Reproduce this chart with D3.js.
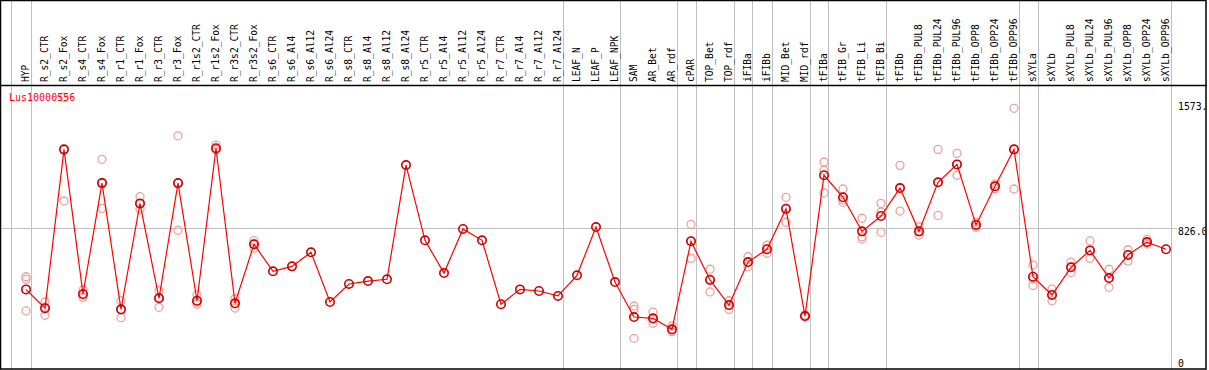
<!DOCTYPE html>
<html>
<head>
<meta charset="utf-8">
<script src="https://cdn.jsdelivr.net/npm/d3@7"></script>
<style>
  html, body { margin: 0; padding: 0; background: #fff; }
  svg { display: block; }
  text { font-family: "DejaVu Sans Mono", monospace; }
</style>
</head>
<body>
<script>
const categories = ["HYP","R_s2_CTR","R_s2_Fox","R_s4_CTR","R_s4_Fox","R_r1_CTR","R_r1_Fox","R_r3_CTR","R_r3_Fox","R_r1s2_CTR","R_r1s2_Fox","R_r3s2_CTR","R_r3s2_Fox","R_s6_CTR","R_s6_Al4","R_s6_Al12","R_s6_Al24","R_s8_CTR","R_s8_Al4","R_s8_Al12","R_s8_Al24","R_r5_CTR","R_r5_Al4","R_r5_Al12","R_r5_Al24","R_r7_CTR","R_r7_Al4","R_r7_Al12","R_r7_Al24","LEAF_N","LEAF_P","LEAF_NPK","SAM","AR_Bet","AR_rdf","cPAR","TOP_Bet","TOP_rdf","iFIBa","iFIBb","MID_Bet","MID_rdf","tFIBa","tFIB_Gr","tFIB_Li","tFIB_Bi","tFIBb","tFIBb_PUL8","tFIBb_PUL24","tFIBb_PUL96","tFIBb_OPP8","tFIBb_OPP24","tFIBb_OPP96","sXYLa","sXYLb","sXYLb_PUL8","sXYLb_PUL24","sXYLb_PUL96","sXYLb_OPP8","sXYLb_OPP24","sXYLb_OPP96"];

const means = [440,322,1316,411,1105,315,978,384,1105,369,1323,353,722,553,584,672,361,474,492,503,1218,747,542,818,747,347,440,430,399,528,830,486,267,259,190,741,499,342,611,691,943,273,1154,1016,803,899,1074,803,1110,1222,843,1085,1316,519,405,578,684,511,655,736,691];

const replicates = [
  [519,503,305],[361,278,330],[1642,1313,993],[436,390,405],[1254,947,1110],
  [369,263,312],[1020,941,975],[432,328,390],[1401,810,1105],[405,347,360],
  [1343,1312,1318],[382,323,350],[745,697,725],[],[],
  [],[],[],[],[],
  [],[],[],[],[],
  [],[],[],[],[],
  [],[],[336,315,134],[298,228,252],[211,175,185],
  [847,634,741],[566,424,505],[369,315,340],[644,582,608],[716,666,690],
  [1016,860,950],[279,267,273],[1237,1187,1043],[1068,985,1000],[885,770,755],
  [978,924,797],[1216,930,1074],[832,780,800],[1316,903,1110],[1291,1154,1222],
  [860,828,843],[1099,1070,1085],[1573,1068,1316],[592,465,505],[442,369,405],
  [611,544,578],[743,634,684],[566,453,511],[688,617,655],[753,724,736],[]
];

const separatorsAfter = [-1,0,28,31,34,35,37,38,39,41,42,45,52,53,60];
const yTicks = [0, 826.0, 1573.0];
const yTickLabels = ["0", "826.0", "1573."];
const geneName = "Lus10000556";

const W = 1209, H = 370;
const svg = d3.select("body").append("svg").attr("width", W).attr("height", H);

const x = d3.scaleLinear().domain([0, categories.length - 1]).range([26, 1166]);
const y = d3.scaleLinear().domain([0, 1573]).range([359.7, 108.3]);

svg.append("defs").append("clipPath").attr("id", "clipR")
  .append("rect").attr("x", 0).attr("y", 0).attr("width", 1205.5).attr("height", H);

// gray horizontal reference line
svg.append("line")
  .attr("x1", 0).attr("x2", 1177)
  .attr("y1", Math.round(y(826)) + 0.5).attr("y2", Math.round(y(826)) + 0.5)
  .attr("stroke", "#c0c0c0").attr("stroke-width", 1);

// group separators
svg.selectAll("line.sep").data(separatorsAfter).join("line")
  .attr("class", "sep")
  .attr("x1", d => Math.round(x(d) + 4.5) + 0.5)
  .attr("x2", d => Math.round(x(d) + 4.5) + 0.5)
  .attr("y1", 0).attr("y2", H)
  .attr("stroke", "#c0c0c0").attr("stroke-width", 1);

// frame
svg.append("rect").attr("x", 0.5).attr("y", 0.5).attr("width", 1205.5).attr("height", 368.5)
  .attr("fill", "none").attr("stroke", "#000").attr("stroke-width", 1.5);
svg.append("line").attr("x1", 0).attr("x2", 1207).attr("y1", 85.5).attr("y2", 85.5)
  .attr("stroke", "#000").attr("stroke-width", 1.5);

// column labels
svg.selectAll("text.cat").data(categories).join("text")
  .attr("class", "cat")
  .attr("transform", (d, i) => `translate(${x(i) - 0.5},82) rotate(-90)`)
  .attr("dy", "0.35em")
  .attr("font-size", 9.6)
  .attr("fill", "#000")
  .text(d => d);

// y axis labels on the right
svg.append("g").attr("clip-path", "url(#clipR)")
  .selectAll("text.yt").data(yTicks).join("text")
  .attr("class", "yt")
  .attr("x", 1178)
  .attr("y", (d, i) => i === yTicks.length - 1 ? y(d) + 2 : y(d) + 7.5)
  .attr("font-size", 9.8)
  .attr("fill", "#000")
  .text((d, i) => yTickLabels[i]);

// replicates
const repData = [];
replicates.forEach((arr, i) => arr.forEach(v => repData.push({ i, v })));
svg.selectAll("circle.rep").data(repData).join("circle")
  .attr("class", "rep")
  .attr("cx", d => x(d.i)).attr("cy", d => y(d.v)).attr("r", 4)
  .attr("fill", "none").attr("stroke", "#f0a0a0").attr("stroke-width", 1.3);

// mean line
svg.append("path")
  .datum(means)
  .attr("d", d3.line().x((d, i) => x(i)).y(d => y(d)))
  .attr("fill", "none").attr("stroke", "#ff0000").attr("stroke-width", 1.2);

// mean markers
svg.selectAll("circle.mean").data(means).join("circle")
  .attr("class", "mean")
  .attr("cx", (d, i) => x(i)).attr("cy", d => y(d)).attr("r", 4.2)
  .attr("fill", "none").attr("stroke", "#cc0000").attr("stroke-width", 1.6);

// gene name
svg.append("text").attr("x", 9).attr("y", 101)
  .attr("font-size", 10).attr("fill", "#ff0000").text(geneName);
</script>
</body>
</html>
